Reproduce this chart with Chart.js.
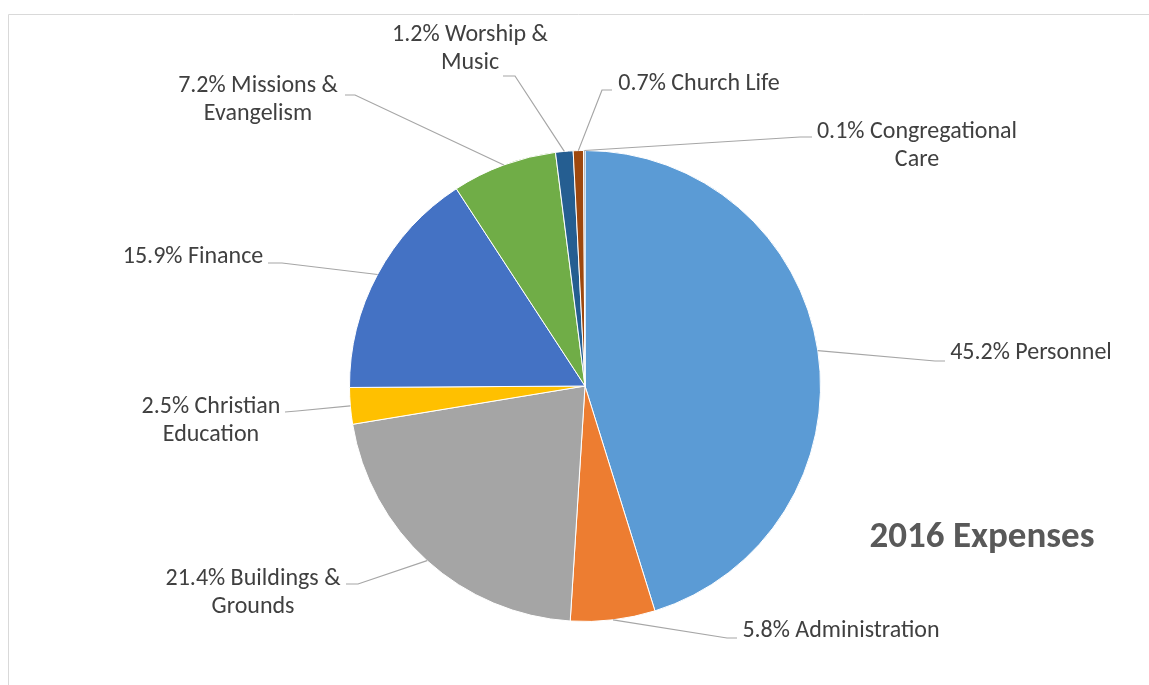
<!DOCTYPE html>
<html>
<head>
<meta charset="utf-8">
<script src="https://cdn.jsdelivr.net/npm/chart.js@4/dist/chart.umd.min.js"></script>
<style>
  html, body { margin: 0; padding: 0; background: #fff; }
  #wrap { width: 1149px; height: 685px; position: relative; }
</style>
</head>
<body>
<div id="wrap"><canvas id="expChart" width="1149" height="685"></canvas></div>
<script>
// data
var categories = ['Personnel', 'Administration', 'Buildings & Grounds', 'Christian Education',
                  'Finance', 'Missions & Evangelism', 'Worship & Music', 'Church Life', 'Congregational Care'];
var percents = [45.2, 5.8, 21.4, 2.5, 15.9, 7.2, 1.2, 0.7, 0.1];
var labelLines = [
    ['Personnel'],
    ['Administration'],
    ['Buildings &', 'Grounds'],
    ['Christian', 'Education'],
    ['Finance'],
    ['Missions &', 'Evangelism'],
    ['Worship &', 'Music'],
    ['Church Life'],
    ['Congregational', 'Care']
];
var chartTitle = '2016 Expenses';

// styles / layout
var colors = ['#5B9BD5', '#ED7D31', '#A5A5A5', '#FFC000', '#4472C4', '#70AD47', '#255E91', '#9E480E', '#636363'];
// label centre (first line), leader elbow and end point
var labelLayout = [
    { x: 1031, y: 353, elbow: [935, 361], end: [945, 361] },
    { x: 841,  y: 631, elbow: [727, 638], end: [737, 638] },
    { x: 253,  y: 579, elbow: [358, 584], end: [346, 584] },
    { x: 211,  y: 407, elbow: [297, 411], end: [285, 412] },
    { x: 193,  y: 257, elbow: [282, 263], end: [268, 263] },
    { x: 258,  y: 86,  elbow: [355, 95],  end: [345, 95] },
    { x: 470,  y: 35,  elbow: [515, 76],  end: [503, 76] },
    { x: 699,  y: 84,  elbow: [602, 90],  end: [612, 90] },
    { x: 917,  y: 132, elbow: [800, 137], end: [812, 137] }
];
var fontFam = "Carlito, 'Open Sans', sans-serif";

var leaderPlugin = {
    id: 'leaders',
    beforeDraw: function(chart) {
        var ctx = chart.ctx;
        ctx.save();
        ctx.strokeStyle = '#D9D9D9';
        ctx.lineWidth = 1;
        ctx.beginPath();
        ctx.moveTo(8.5, 685);
        ctx.lineTo(8.5, 14.5);
        ctx.lineTo(1149, 14.5);
        ctx.stroke();
        ctx.restore();
    },
    afterDraw: function(chart) {
        var ctx = chart.ctx;
        var arcs = chart.getDatasetMeta(0).data;
        ctx.save();
        arcs.forEach(function(arc, i) {
            var p = arc.getProps(['x', 'y', 'startAngle', 'endAngle', 'outerRadius'], true);
            var mid = (p.startAngle + p.endAngle) / 2;
            var sx = p.x + Math.cos(mid) * p.outerRadius;
            var sy = p.y + Math.sin(mid) * p.outerRadius;
            var L = labelLayout[i];
            ctx.strokeStyle = '#A6A6A6';
            ctx.lineWidth = 1.2;
            ctx.beginPath();
            ctx.moveTo(sx, sy);
            ctx.lineTo(L.elbow[0], L.elbow[1]);
            ctx.lineTo(L.end[0], L.end[1]);
            ctx.stroke();

            var lines = labelLines[i].slice();
            lines[0] = percents[i].toFixed(1) + '% ' + lines[0];
            ctx.fillStyle = '#404040';
            ctx.font = '24px ' + fontFam;
            ctx.textAlign = 'center';
            ctx.textBaseline = 'middle';
            lines.forEach(function(t, k) {
                ctx.fillText(t, L.x, L.y + k * 28);
            });
        });
        ctx.font = 'bold 37px ' + fontFam;
        ctx.fillStyle = '#595959';
        ctx.textAlign = 'center';
        ctx.textBaseline = 'middle';
        ctx.fillText(chartTitle, 982, 538);
        ctx.restore();
    }
};

var expCtx = document.getElementById('expChart').getContext('2d');
var expChart = new Chart(expCtx, {
    type: 'pie',
    data: {
        labels: categories,
        datasets: [{
            data: percents,
            backgroundColor: colors,
            borderColor: '#FFFFFF',
            borderWidth: 1
        }]
    },
    options: {
        responsive: false,
        animation: false,
        layout: { padding: { left: 349, right: 328, top: 150, bottom: 63 } },
        plugins: {
            legend: { display: false },
            tooltip: { enabled: false }
        }
    },
    plugins: [leaderPlugin]
});
</script>
</body>
</html>
